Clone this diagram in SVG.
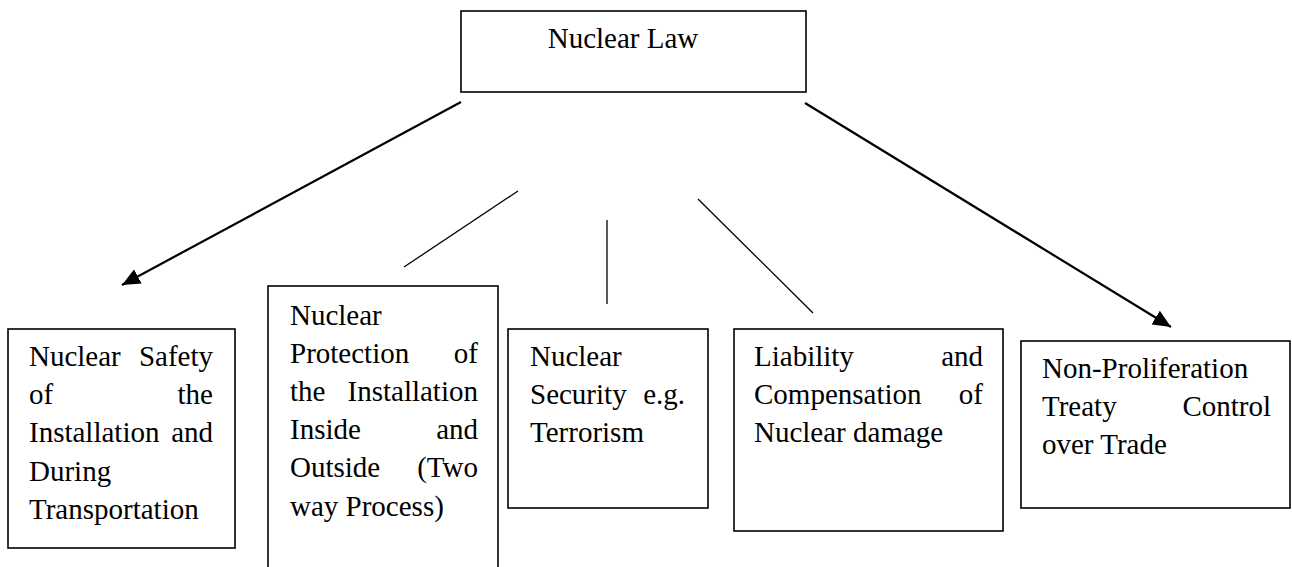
<svg xmlns="http://www.w3.org/2000/svg" width="1292" height="567" viewBox="0 0 1292 567">
<style>
.box{fill:#fff;stroke:#000;stroke-width:1.6}
text{font-family:"Liberation Serif","Times New Roman",serif;font-size:29px;fill:#000}
.e{text-anchor:end}
.c{text-anchor:middle}
.ln{stroke:#000;stroke-width:1.3;fill:none}
.ar{stroke:#000;stroke-width:2.2;fill:none}
</style>
<defs>
<marker id="ah" markerUnits="userSpaceOnUse" markerWidth="20" markerHeight="16" refX="18" refY="8" orient="auto">
<path d="M0,0 L18,8 L0,16 z" fill="#000"/>
</marker>
</defs>
<rect width="1292" height="567" fill="#fff"/>
<g id="connectors">
<line class="ar" x1="461" y1="102" x2="122" y2="285" marker-end="url(#ah)"/>
<line class="ar" x1="805" y1="103" x2="1171" y2="327" marker-end="url(#ah)"/>
<line class="ln" x1="518" y1="191" x2="404" y2="267"/>
<line class="ln" x1="607" y1="220" x2="607" y2="304"/>
<line class="ln" x1="698" y1="199" x2="813" y2="313"/>
</g>
<g id="nuclear-law">
<rect class="box" x="461" y="11" width="345" height="81"/>
<text class="c" x="623" y="48">Nuclear Law</text>
</g>
<g id="safety">
<rect class="box" x="8" y="329" width="227" height="219"/>
<text x="29" y="366">Nuclear</text><text class="e" x="213" y="366">Safety</text>
<text x="29" y="404">of</text><text class="e" x="213" y="404">the</text>
<text x="29" y="442">Installation</text><text class="e" x="213" y="442">and</text>
<text x="29" y="481">During</text>
<text x="29" y="519">Transportation</text>
</g>
<g id="protection">
<rect class="box" x="268" y="286" width="230" height="300"/>
<text x="290" y="325">Nuclear</text>
<text x="290" y="363">Protection</text><text class="e" x="478" y="363">of</text>
<text x="290" y="401">the</text><text class="e" x="478" y="401">Installation</text>
<text x="290" y="439">Inside</text><text class="e" x="478" y="439">and</text>
<text x="290" y="477">Outside</text><text class="e" x="478" y="477">(Two</text>
<text x="290" y="516">way Process)</text>
</g>
<g id="security">
<rect class="box" x="508" y="329" width="200" height="179"/>
<text x="530" y="366">Nuclear</text>
<text x="530" y="404">Security</text><text class="e" x="685" y="404">e.g.</text>
<text x="530" y="442">Terrorism</text>
</g>
<g id="liability">
<rect class="box" x="734" y="329" width="269" height="202"/>
<text x="754" y="366">Liability</text><text class="e" x="983" y="366">and</text>
<text x="754" y="404">Compensation</text><text class="e" x="983" y="404">of</text>
<text x="754" y="442">Nuclear damage</text>
</g>
<g id="non-proliferation">
<rect class="box" x="1021" y="341" width="269" height="167"/>
<text x="1042" y="378">Non-Proliferation</text>
<text x="1042" y="416">Treaty</text><text class="e" x="1271" y="416">Control</text>
<text x="1042" y="454">over Trade</text>
</g>
</svg>
